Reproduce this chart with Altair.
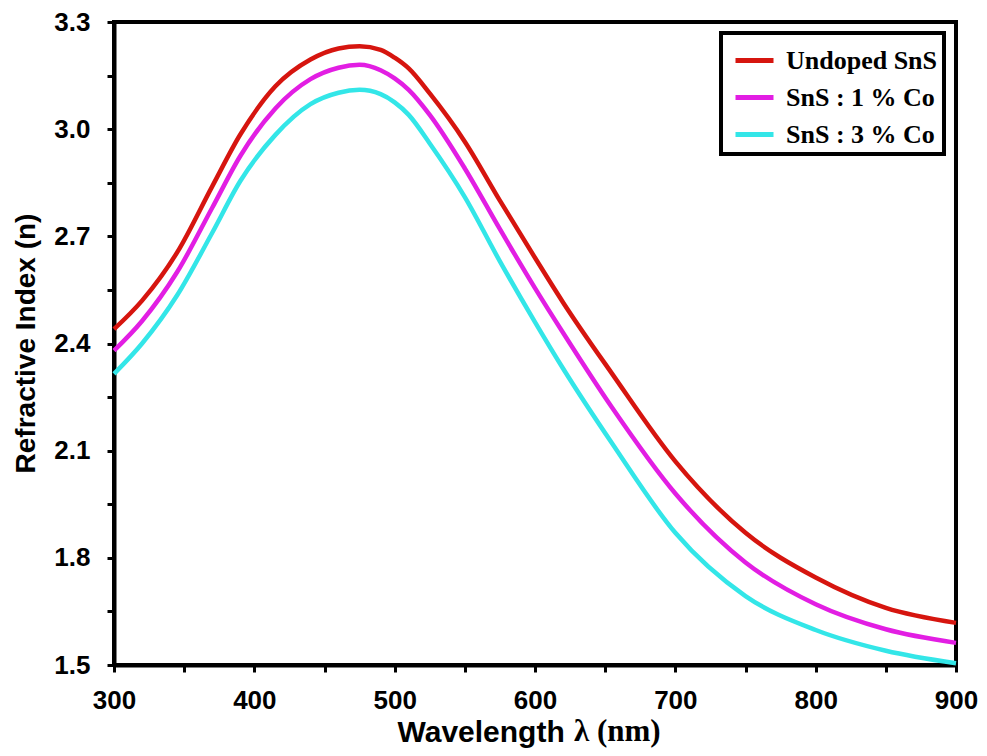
import altair as alt
import pandas as pd

wavelength = [300, 320, 345, 370, 390, 415, 440, 460, 475, 490, 500, 510, 525,
              550, 575, 600, 620, 655, 700, 750, 800, 850, 900]

undoped = [2.44, 2.52, 2.655, 2.84, 2.985, 3.12, 3.195, 3.226, 3.232, 3.222, 3.20,
           3.17, 3.10, 2.965, 2.80, 2.64, 2.515, 2.315, 2.07, 1.87, 1.745, 1.66, 1.618]
co1 = [2.38, 2.463, 2.60, 2.78, 2.925, 3.058, 3.14, 3.172, 3.18, 3.165, 3.142,
       3.11, 3.04, 2.89, 2.72, 2.555, 2.43, 2.22, 1.98, 1.787, 1.67, 1.60, 1.562]
co3 = [2.315, 2.40, 2.535, 2.71, 2.855, 2.984, 3.07, 3.102, 3.11, 3.098, 3.075,
       3.04, 2.96, 2.81, 2.63, 2.46, 2.33, 2.12, 1.87, 1.693, 1.598, 1.54, 1.505]

series_names = ["Undoped SnS", "SnS : 1 % Co", "SnS : 3 % Co"]
series_values = [undoped, co1, co3]
colors = ["#d6150f", "#e21ee3", "#33e6e8"]

x_ticks = [300, 350, 400, 450, 500, 550, 600, 650, 700, 750, 800, 850, 900]
y_ticks = [1.5, 1.65, 1.8, 1.95, 2.1, 2.25, 2.4, 2.55, 2.7, 2.85, 3.0, 3.15, 3.3]

rows = []
for name, vals in zip(series_names, series_values):
    for w, v in zip(wavelength, vals):
        rows.append({"wavelength": w, "n": v, "series": name})
df = pd.DataFrame(rows)

lines = alt.Chart(df).mark_line(strokeWidth=4.5, interpolate="monotone").encode(
    x=alt.X("wavelength:Q",
            scale=alt.Scale(domain=[300, 900], nice=False, zero=False),
            axis=alt.Axis(values=x_ticks,
                          labelExpr="datum.value % 100 === 0 ? datum.label : ''",
                          labelFlush=False,
                          title="Wavelength", titleAlign="left", titleX=283,
                          titleY=67, titleBaseline="middle", titleFontSize=30,
                          labelPadding=15)),
    y=alt.Y("n:Q",
            scale=alt.Scale(domain=[1.5, 3.3], nice=False, zero=False),
            axis=alt.Axis(values=y_ticks,
                          labelExpr="round(datum.value*100) % 30 === 0 ? format(datum.value, '.1f') : ''",
                          labelFlush=False,
                          title="Refractive Index (n)", titleX=-88, titleY=321,
                          titleBaseline="middle", titleAlign="center",
                          labelPadding=17)),
    color=alt.Color("series:N",
                    scale=alt.Scale(domain=series_names, range=colors),
                    sort=series_names,
                    legend=alt.Legend(title=None, orient="none", legendX=607, legendY=11,
                                      symbolType="stroke", symbolSize=1444,
                                      symbolStrokeWidth=5, labelFont="Liberation Serif",
                                      labelFontWeight="bold", labelFontSize=26,
                                      labelColor="black", labelOffset=10,
                                      symbolOffset=6,
                                      padding=6, rowPadding=2, labelLimit=400,
                                      strokeColor="black", fillColor="white")),
)

unit = alt.Chart(pd.DataFrame({"t": ["λ (nm)"]})).mark_text(
    font="Liberation Serif", fontWeight="bold", fontSize=31,
    align="left", baseline="middle", color="black"
).encode(x=alt.value(460), y=alt.value(710), text="t:N")

chart = alt.layer(lines, unit).properties(
    width=842, height=643,
    autosize=alt.AutoSizeParams(type="none"),
    padding={"left": 106, "top": 14, "right": 22, "bottom": 83},
).configure_view(
    stroke="black", strokeWidth=4
).configure_axis(
    grid=False, domainColor="black", domainWidth=4,
    tickColor="black", tickWidth=3, tickSize=7,
    labelFont="Liberation Sans", labelFontWeight="bold", labelFontSize=26,
    labelColor="black",
    titleFont="Liberation Sans", titleFontWeight="bold", titleFontSize=28,
    titleColor="black",
).configure_legend(
    strokeWidth=4
)

chart.save("out.html", embed_options={"renderer": "svg", "actions": False})
